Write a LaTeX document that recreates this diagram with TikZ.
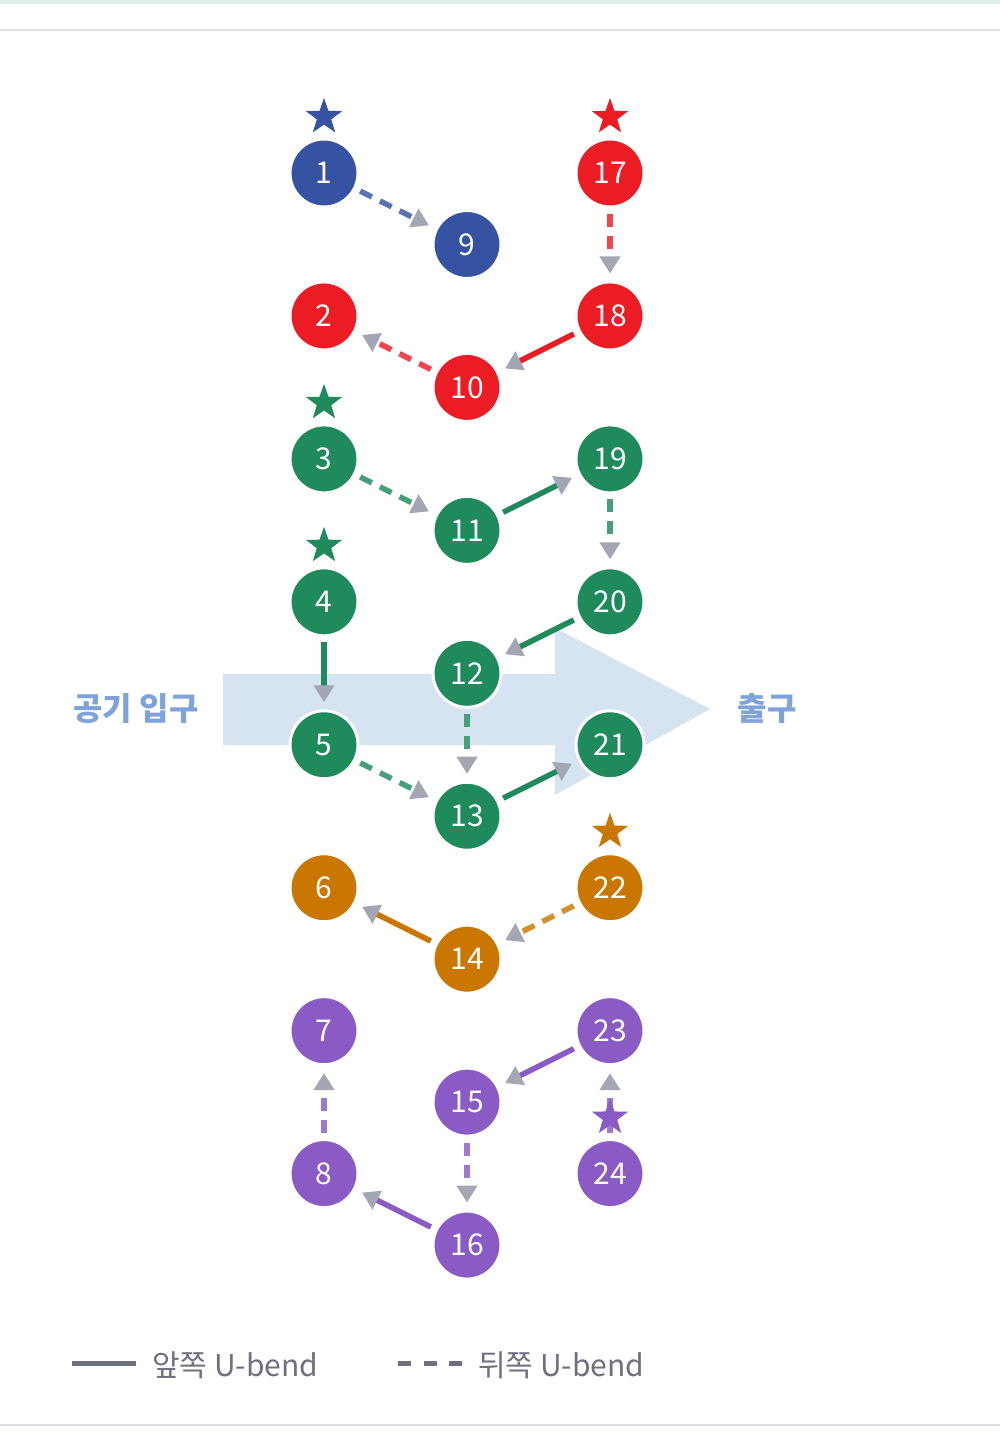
\documentclass[tikz,border=0pt]{standalone}
\usepackage{fontspec}
\newfontfamily\kr{Noto Sans CJK KR}
\usetikzlibrary{arrows.meta,shapes.geometric}
\definecolor{cblue}{HTML}{3652A3}
\definecolor{cred}{HTML}{EC1C24}
\definecolor{cgreen}{HTML}{1F8A5B}
\definecolor{corange}{HTML}{C97700}
\definecolor{cpurple}{HTML}{8A5AC5}
\definecolor{agray}{HTML}{A3A7B4}
\definecolor{lblue}{HTML}{7DA3DA}
\definecolor{flow}{HTML}{D6E4F2}
\definecolor{leg}{HTML}{6E7080}
\definecolor{topband}{HTML}{E0EEE8}
\definecolor{rule}{HTML}{DEDEE8}
\tikzset{
  pipe/.style={circle, minimum size=68pt, inner sep=0pt, fill=#1, draw=white, line width=3pt, text=white, font=\kr\fontsize{30}{32}\selectfont},
  front/.style={draw=#1, line width=5.5pt, shorten <=5pt, shorten >=7pt, -{Triangle[width=20pt,length=17pt,color=agray]}},
  back/.style={draw=#1!82!white, line width=5.5pt, dash pattern=on 13pt off 9pt, shorten <=5pt, shorten >=7pt, -{Triangle[width=20pt,length=17pt,color=agray]}},
  startmark/.style={star, star points=5, star point ratio=2.5, minimum size=38pt, inner sep=0pt, fill=#1, draw=none},
  lbl/.style={text=lblue, font=\kr\bfseries\fontsize{32}{34}\selectfont, inner sep=0pt},
  legtext/.style={text=leg, font=\kr\fontsize{30}{32}\selectfont, inner sep=0pt, anchor=west}
}
\begin{document}
\begin{tikzpicture}[x=1pt,y=-1pt]
\useasboundingbox (0,0) rectangle (1000,1452);
\fill[white] (0,0) rectangle (1000,1452);
% borders
\fill[topband] (0,0) rectangle (1000,4);
\fill[rule] (0,29) rectangle (1000,31);
\fill[rule] (0,1424) rectangle (1000,1426);
% flow arrow
\fill[flow] (223,674) -- (555,674) -- (555,628) -- (710,709) -- (555,795) -- (555,745) -- (223,745) -- cycle;
\node[lbl] (inlet) at (136,709) {공기 입구};
\node[lbl] (outlet) at (767,709) {출구};
% rows
\def\ry#1{173+71.47*#1}
% nodes
\node[pipe=cblue]   (n1)  at (324,{\ry{0}})  {1};
\node[pipe=cred]    (n2)  at (324,{\ry{2}})  {2};
\node[pipe=cgreen]  (n3)  at (324,{\ry{4}})  {3};
\node[pipe=cgreen]  (n4)  at (324,{\ry{6}})  {4};
\node[pipe=cgreen]  (n5)  at (324,{\ry{8}})  {5};
\node[pipe=corange] (n6)  at (324,{\ry{10}}) {6};
\node[pipe=cpurple] (n7)  at (324,{\ry{12}}) {7};
\node[pipe=cpurple] (n8)  at (324,{\ry{14}}) {8};
\node[pipe=cblue]   (n9)  at (467,{\ry{1}})  {9};
\node[pipe=cred]    (n10) at (467,{\ry{3}})  {10};
\node[pipe=cgreen]  (n11) at (467,{\ry{5}})  {11};
\node[pipe=cgreen]  (n12) at (467,{\ry{7}})  {12};
\node[pipe=cgreen]  (n13) at (467,{\ry{9}})  {13};
\node[pipe=corange] (n14) at (467,{\ry{11}}) {14};
\node[pipe=cpurple] (n15) at (467,{\ry{13}}) {15};
\node[pipe=cpurple] (n16) at (467,{\ry{15}}) {16};
\node[pipe=cred]    (n17) at (610,{\ry{0}})  {17};
\node[pipe=cred]    (n18) at (610,{\ry{2}})  {18};
\node[pipe=cgreen]  (n19) at (610,{\ry{4}})  {19};
\node[pipe=cgreen]  (n20) at (610,{\ry{6}})  {20};
\node[pipe=cgreen]  (n21) at (610,{\ry{8}})  {21};
\node[pipe=corange] (n22) at (610,{\ry{10}}) {22};
\node[pipe=cpurple] (n23) at (610,{\ry{12}}) {23};
\node[pipe=cpurple] (n24) at (610,{\ry{14}}) {24};
% connectors
\draw[back=cblue]    (n1) -- (n9);
\draw[back=cred]     (n17) -- (n18);
\draw[front=cred]    (n18) -- (n10);
\draw[back=cred]     (n10) -- (n2);
\draw[back=cgreen]   (n3) -- (n11);
\draw[front=cgreen]  (n11) -- (n19);
\draw[back=cgreen]   (n19) -- (n20);
\draw[front=cgreen]  (n4) -- (n5);
\draw[front=cgreen]  (n20) -- (n12);
\draw[back=cgreen]   (n12) -- (n13);
\draw[back=cgreen]   (n5) -- (n13);
\draw[front=cgreen]  (n13) -- (n21);
\draw[back=corange]  (n22) -- (n14);
\draw[front=corange] (n14) -- (n6);
\draw[front=cpurple] (n23) -- (n15);
\draw[back=cpurple]  (n15) -- (n16);
\draw[front=cpurple] (n16) -- (n8);
\draw[back=cpurple]  (n8) -- (n7);
\draw[back=cpurple]  (n24) -- (n23);
% start marks
\node[startmark=cblue]   (s1)  at ([yshift=56pt]n1.center) {};
\node[startmark=cred]    (s17) at ([yshift=56pt]n17.center) {};
\node[startmark=cgreen]  (s3)  at ([yshift=56pt]n3.center) {};
\node[startmark=cgreen]  (s4)  at ([yshift=56pt]n4.center) {};
\node[startmark=corange] (s22) at ([yshift=56pt]n22.center) {};
\node[startmark=cpurple] (s24) at ([yshift=56pt]n24.center) {};
% legend
\coordinate (la) at (72,1363);
\coordinate (lb) at (136,1363);
\draw[leg, line width=5pt] (la) -- (lb);
\node[legtext] (lt1) at (152,1365) {앞쪽 U-bend};
\coordinate (lc) at (398,1363);
\coordinate (ld) at (462,1363);
\draw[leg, line width=5pt, dash pattern=on 13pt off 12.5pt] (lc) -- (ld);
\node[legtext] (lt2) at (478,1365) {뒤쪽 U-bend};
\end{tikzpicture}
\end{document}
